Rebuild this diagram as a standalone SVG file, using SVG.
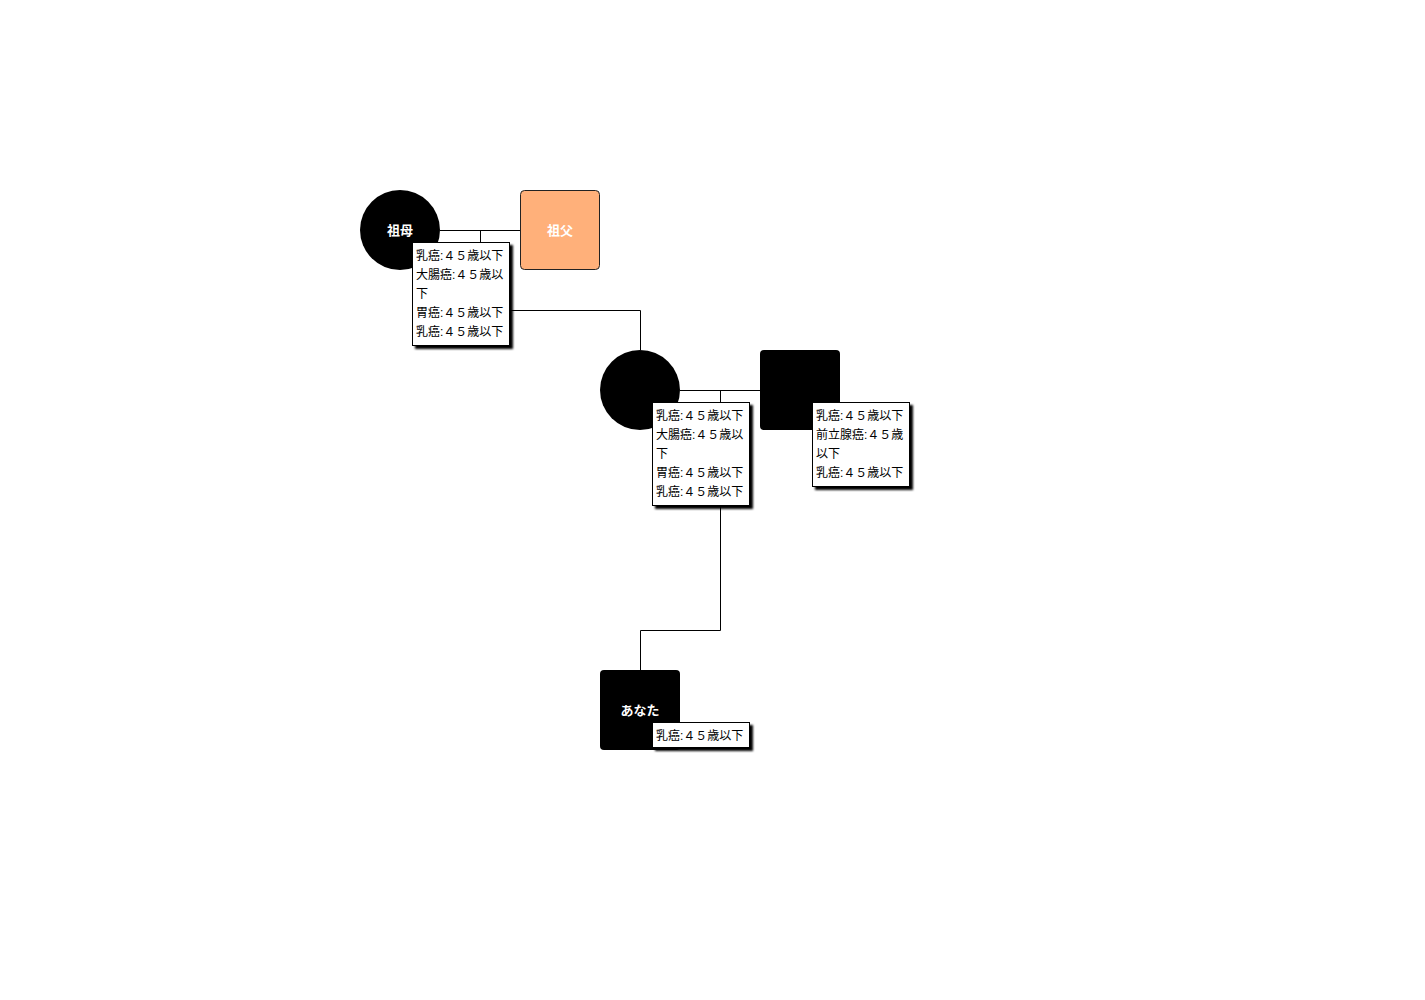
<svg xmlns="http://www.w3.org/2000/svg" width="1425" height="1000" viewBox="0 0 1425 1000">
  <defs>
    <filter id="shadow" x="-10%" y="-10%" width="130%" height="130%">
      <feGaussianBlur in="SourceAlpha" stdDeviation="1"/>
      <feOffset dx="3" dy="3" result="b"/>
      <feMerge><feMergeNode in="b"/><feMergeNode in="SourceGraphic"/></feMerge>
    </filter>
  </defs>
  <style>
    .node { fill: #000; }
    .male-plain { fill: #FFB07A; stroke: #222; stroke-width: 1; }
    .name { font-family: "Liberation Sans", "Noto Sans CJK JP", sans-serif; font-size: 13px; font-weight: bold; fill: #fff; text-anchor: middle; dominant-baseline: central; }
    .note rect { fill: #fff; stroke: #000; stroke-width: 1; filter: url(#shadow); }
    .note text { font-family: "Liberation Sans", "Noto Sans CJK JP", sans-serif; font-size: 12px; fill: #000; }
    .links path { fill: none; stroke: #000; stroke-width: 1; }
  </style>
  <rect width="1425" height="1000" fill="#fff"/>

  <!-- connectors -->
  <g class="links">
    <path d="M440,230.5 H520"/>
    <path d="M480.5,230 V242"/>
    <path d="M510,310.5 H640.5 V350"/>
    <path d="M680,390.5 H760"/>
    <path d="M720.5,390 V402"/>
    <path d="M720.5,506 V630.5 H640.5 V670"/>
  </g>

  <!-- grandmother -->
  <g id="grandmother">
    <circle class="node" cx="400" cy="230" r="40"/>
    <text class="name" x="400" y="230">祖母</text>
  </g>
  <!-- grandfather -->
  <g id="grandfather">
    <rect class="male-plain" x="520.5" y="190.5" width="79" height="79" rx="4"/>
    <text class="name" x="560" y="230">祖父</text>
  </g>
  <!-- mother -->
  <g id="mother">
    <circle class="node" cx="640" cy="390" r="40"/>
  </g>
  <!-- father -->
  <g id="father">
    <rect class="node" x="760" y="350" width="80" height="80" rx="4"/>
  </g>
  <!-- you -->
  <g id="you">
    <rect class="node" x="600" y="670" width="80" height="80" rx="4"/>
    <text class="name" x="640" y="710">あなた</text>
  </g>

  <!-- condition notes -->
  <g id="note-grandmother" class="note">
    <rect x="412.5" y="242.5" width="97" height="103"/>
    <text x="416" y="260">乳癌:４５歳以下</text>
    <text x="416" y="279">大腸癌:４５歳以</text>
    <text x="416" y="298">下</text>
    <text x="416" y="317">胃癌:４５歳以下</text>
    <text x="416" y="336">乳癌:４５歳以下</text>
  </g>
  <g id="note-mother" class="note">
    <rect x="652.5" y="402.5" width="97" height="103"/>
    <text x="656" y="420">乳癌:４５歳以下</text>
    <text x="656" y="439">大腸癌:４５歳以</text>
    <text x="656" y="458">下</text>
    <text x="656" y="477">胃癌:４５歳以下</text>
    <text x="656" y="496">乳癌:４５歳以下</text>
  </g>
  <g id="note-father" class="note">
    <rect x="812.5" y="402.5" width="97" height="84"/>
    <text x="816" y="420">乳癌:４５歳以下</text>
    <text x="816" y="439">前立腺癌:４５歳</text>
    <text x="816" y="458">以下</text>
    <text x="816" y="477">乳癌:４５歳以下</text>
  </g>
  <g id="note-you" class="note">
    <rect x="652.5" y="722.5" width="97" height="25"/>
    <text x="656" y="740">乳癌:４５歳以下</text>
  </g>
</svg>
